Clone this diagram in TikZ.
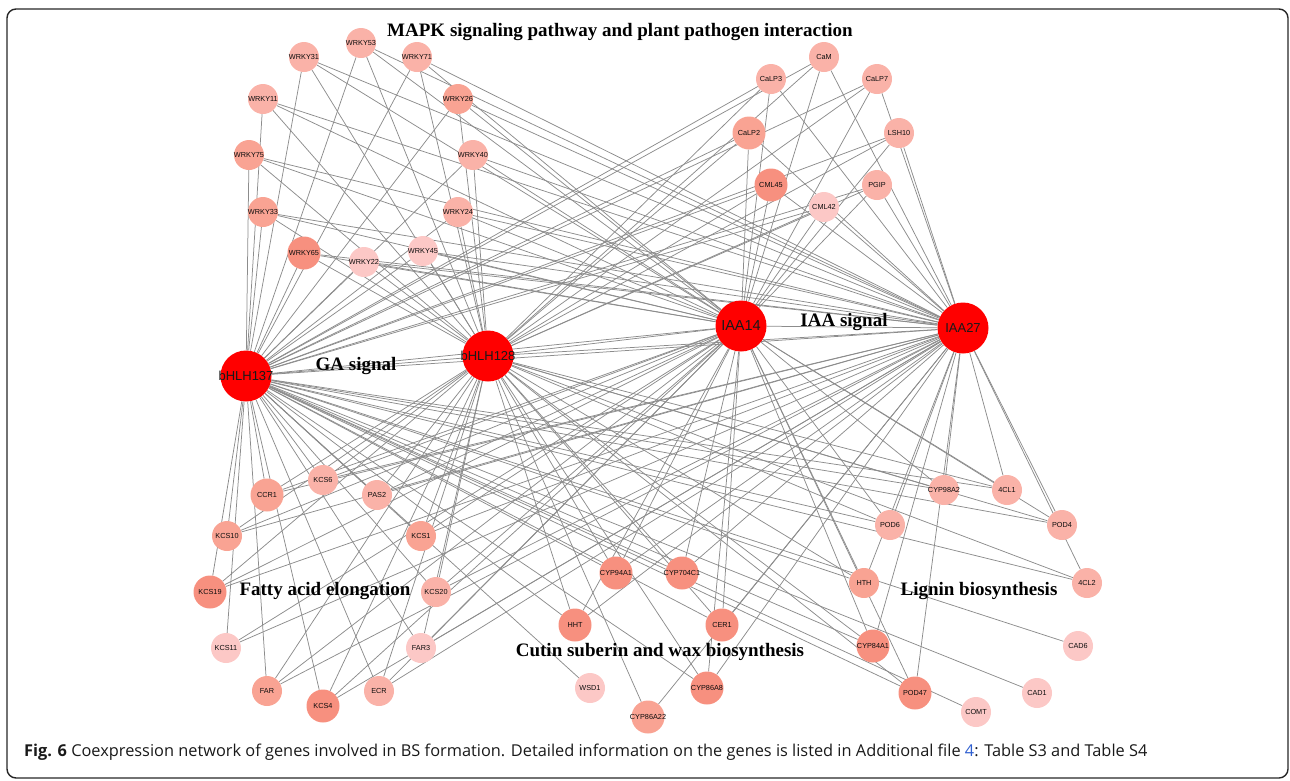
\documentclass[tikz,border=0pt]{standalone}
\usepackage{fontspec}
\setmainfont{Liberation Serif}
\newfontfamily\arialf{Liberation Sans}
\newfontfamily\capfont{Open Sans}
\definecolor{ca}{HTML}{F7907F}
\definecolor{cb}{HTML}{F9A393}
\definecolor{cc}{HTML}{FAB2A8}
\definecolor{cd}{HTML}{FCC8C6}
\definecolor{edgec}{HTML}{8C8C8C}
\definecolor{capblue}{HTML}{2F5FD0}
\newcommand\zl[1]{\makebox[0pt][c]{#1}}
\pgfdeclarelayer{edgelayer}
\pgfsetlayers{edgelayer,main}
\begin{document}
\begin{tikzpicture}[x=1pt,y=-1pt,
  sn/.style={circle,minimum size=30pt,inner sep=0pt,font=\arialf\fontsize{7.3}{7.3}\selectfont,text=black!95},
  big/.style={minimum size=33pt},
  hub/.style={circle,fill=red,minimum size=51pt,inner sep=0pt,font=\arialf\fontsize{13}{13}\selectfont,text=black!90},
  cat/.style={font=\bfseries\fontsize{19}{19}\selectfont},
  link/.style={draw=edgec,line width=0.75pt}]
\useasboundingbox (0,0) rectangle (1290,780);
\draw[line width=1.4pt,rounded corners=9pt,black!85] (7,9) rectangle (1288,778);

% hubs
\node[hub] (bHLH137) at (246,376) {\zl{bHLH137}};
\node[hub] (bHLH128) at (488,356) {\zl{bHLH128}};
\node[hub,font=\arialf\fontsize{14.5}{14.5}\selectfont] (IAA14) at (741,326) {\zl{IAA14}};
\node[hub] (IAA27) at (963,328) {\zl{IAA27}};

% MAPK group
\node[sn,fill=cc] (WRKY53) at (361,43) {\zl{WRKY53}};
\node[sn,fill=cc] (WRKY31) at (304,57) {\zl{WRKY31}};
\node[sn,fill=cc] (WRKY71) at (417,57) {\zl{WRKY71}};
\node[sn,fill=cc] (WRKY11) at (263,99) {\zl{WRKY11}};
\node[sn,fill=cb] (WRKY26) at (458,99) {\zl{WRKY26}};
\node[sn,fill=cb] (WRKY75) at (249,155) {\zl{WRKY75}};
\node[sn,fill=cc] (WRKY40) at (473,155) {\zl{WRKY40}};
\node[sn,fill=cb] (WRKY33) at (263,212) {\zl{WRKY33}};
\node[sn,fill=cc] (WRKY24) at (458,212) {\zl{WRKY24}};
\node[sn,big,fill=ca] (WRKY65) at (304,253) {\zl{WRKY65}};
\node[sn,fill=cd] (WRKY45) at (423,251) {\zl{WRKY45}};
\node[sn,fill=cd] (WRKY22) at (364,262) {\zl{WRKY22}};
\node[sn,fill=cc] (CaM) at (824,57) {\zl{CaM}};
\node[sn,fill=cc] (CaLP3) at (771,79) {\zl{CaLP3}};
\node[sn,fill=cc] (CaLP7) at (877,79) {\zl{CaLP7}};
\node[sn,big,fill=cb] (CaLP2) at (749,133) {\zl{CaLP2}};
\node[sn,fill=cc] (LSH10) at (899,133) {\zl{LSH10}};
\node[sn,big,fill=ca] (CML45) at (771,185) {\zl{CML45}};
\node[sn,fill=cc] (PGIP) at (877,185) {\zl{PGIP}};
\node[sn,fill=cd] (CML42) at (824,207) {\zl{CML42}};

% fatty acid group
\node[sn,fill=cc] (KCS6) at (323,480) {\zl{KCS6}};
\node[sn,big,fill=cb] (CCR1) at (267,495) {\zl{CCR1}};
\node[sn,fill=cc] (PAS2) at (377,495) {\zl{PAS2}};
\node[sn,fill=cb] (KCS10) at (227,536) {\zl{KCS10}};
\node[sn,fill=cb] (KCS1) at (421,536) {\zl{KCS1}};
\node[sn,big,fill=ca] (KCS19) at (210,592) {\zl{KCS19}};
\node[sn,fill=cc] (KCS20) at (436,592) {\zl{KCS20}};
\node[sn,fill=cd] (KCS11) at (226,648) {\zl{KCS11}};
\node[sn,fill=cd] (FAR3) at (421,648) {\zl{FAR3}};
\node[sn,fill=cb] (FAR) at (267,691) {\zl{FAR}};
\node[sn,big,fill=ca] (KCS4) at (323,706) {\zl{KCS4}};
\node[sn,fill=cc] (ECR) at (379,691) {\zl{ECR}};

% cutin group
\node[sn,big,fill=ca] (CYP94A1) at (616,573) {\zl{CYP94A1}};
\node[sn,big,fill=ca] (CYP704C1) at (682,573) {\zl{CYP704C1}};
\node[sn,big,fill=ca] (HHT) at (575,625) {\zl{HHT}};
\node[sn,big,fill=ca] (CER1) at (722,625) {\zl{CER1}};
\node[sn,fill=cd] (WSD1) at (590,688) {\zl{WSD1}};
\node[sn,big,fill=ca] (CYP86A8) at (707,688) {\zl{CYP86A8}};
\node[sn,big,fill=cb] (CYP86A22) at (648,717) {\zl{CYP86A22}};

% lignin group
\node[sn,fill=cc] (CYP98A2) at (944,490) {\zl{CYP98A2}};
\node[sn,fill=cc] (CLa) at (1007,490) {\zl{4CL1}};
\node[sn,fill=cc] (POD6) at (890,525) {\zl{POD6}};
\node[sn,fill=cc] (POD4) at (1062,525) {\zl{POD4}};
\node[sn,fill=cb] (HTH) at (864,583) {\zl{HTH}};
\node[sn,fill=cc] (CLb) at (1087,583) {\zl{4CL2}};
\node[sn,big,fill=ca] (CYP84A1) at (873,646) {\zl{CYP84A1}};
\node[sn,fill=cd] (CAD6) at (1078,646) {\zl{CAD6}};
\node[sn,big,fill=ca] (POD47) at (915,693) {\zl{POD47}};
\node[sn,fill=cd] (CAD1) at (1037,693) {\zl{CAD1}};
\node[sn,fill=cd] (COMT) at (976,712) {\zl{COMT}};

% category labels
\node[cat] (tMAPK) at (620,32) {MAPK signaling pathway and plant pathogen interaction};
\node[cat] (tGA) at (356,366) {GA signal};
\node[cat] (tIAA) at (844,322) {IAA signal};
\node[cat] (tFA) at (325,591) {Fatty acid elongation};
\node[cat] (tCut) at (660,652) {Cutin suberin and wax biosynthesis};
\node[cat] (tLig) at (979,591) {Lignin biosynthesis};

% caption
\node[anchor=west,inner sep=0pt,text=black!90,font=\capfont\fontsize{16.35}{16.35}\selectfont] (cap) at (24,752)
  {\textbf{Fig. 6} Coexpression network of genes involved in BS formation. Detailed information on the genes is listed in Additional file {\color{capblue}4}: Table S3 and Table S4};

% edges
\begin{pgfonlayer}{edgelayer}
\foreach \n in {WRKY53,WRKY31,WRKY71,WRKY11,WRKY26,WRKY75,WRKY40,WRKY33,WRKY24,WRKY65,WRKY45,WRKY22,
  CaM,CaLP3,CaLP7,CaLP2,LSH10,CML45,PGIP,CML42,
  KCS6,CCR1,PAS2,KCS10,KCS1,KCS19,KCS20,FAR3,FAR,KCS4,ECR,
  CYP94A1,CYP704C1,HHT,CER1,CYP86A8,
  CYP98A2,CLa,POD6,POD4,HTH,CYP84A1,POD47}
  \foreach \h in {bHLH137,bHLH128,IAA14,IAA27}
    \draw[link] (\n) -- (\h);
\foreach \n in {CAD6,CAD1,COMT,WSD1}
  \draw[link] (\n) -- (bHLH137);
\foreach \h in {bHLH128,IAA27} \draw[link] (CYP86A22) -- (\h);
\foreach \h in {bHLH137,IAA14,IAA27} \draw[link] (KCS11) -- (\h);
\foreach \h in {bHLH137,bHLH128,IAA27} \draw[link] (CLb) -- (\h);
\draw[link] (bHLH137) -- (bHLH128);
\draw[link] (bHLH137) -- (IAA14);
\draw[link] (bHLH137) -- (IAA27);
\draw[link] (bHLH128) -- (IAA14);
\draw[link] (bHLH128) -- (IAA27);
\draw[link] (IAA14) -- (IAA27);
\end{pgfonlayer}
\end{tikzpicture}
\end{document}
